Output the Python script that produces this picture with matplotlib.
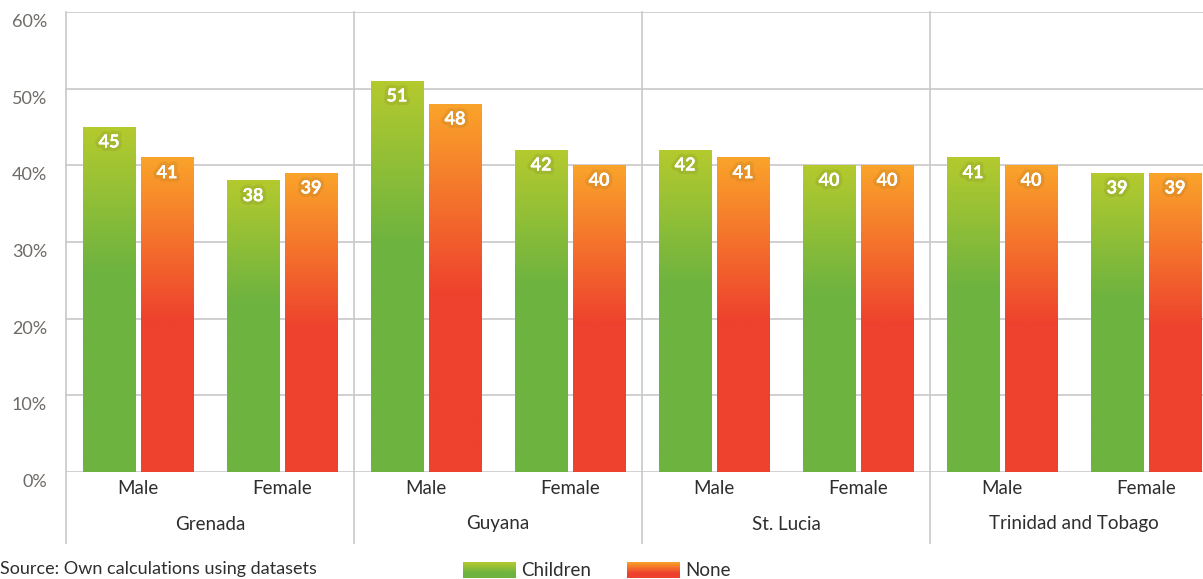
import numpy as np
import matplotlib
matplotlib.use("Agg")
import matplotlib.pyplot as plt
import matplotlib.transforms as mtransforms
import matplotlib.patheffects as pe

countries = ["Grenada", "Guyana", "St. Lucia", "Trinidad and Tobago"]
sexes = ["Male", "Female"]
children = [45, 38, 51, 42, 42, 40, 41, 39]
none_vals = [41, 39, 48, 40, 41, 40, 40, 39]
series_names = ["Children", "None"]
yticks = [0, 10, 20, 30, 40, 50, 60]

plt.rcParams['font.family'] = ['Lato', 'DejaVu Sans']

W, H = 1203, 579
fig = plt.figure(figsize=(W / 100, H / 100), dpi=100)
ax_left, ax_right, ax_top, ax_bot = 66, 1218, 12, 472
ax = fig.add_axes([ax_left / W, 1 - ax_bot / H, (ax_right - ax_left) / W, (ax_bot - ax_top) / H])

ax.set_xlim(0, 8)
ax.set_ylim(0, 60)
for s in ax.spines.values():
    s.set_visible(False)
ax.set_xticks([])
ax.set_yticks([])

grid_c = "#c8c8c8"
for v in yticks:
    ax.axhline(v, color=grid_c, lw=1.2, zorder=0)

# gradients
green_top = np.array([0xb4, 0xca, 0x2e]) / 255
green_bot = np.array([0x6d, 0xb3, 0x40]) / 255
orange_top = np.array([0xfa, 0xa3, 0x2a]) / 255
red_bot = np.array([0xee, 0x41, 0x2e]) / 255


def grad(top, bot, stop, n=200):
    t = np.linspace(0, 1, n)
    f = np.clip(t / stop, 0, 1)[:, None]
    arr = top[None, :] * (1 - f) + bot[None, :] * f
    return arr[:, None, :]


bw = 53 / 144
off = 29 / 144
for k, (c, o) in enumerate(zip(children, none_vals)):
    center = k + 0.5
    for val, x, top, bot, stop in [(c, center - off, green_top, green_bot, 0.42),
                                    (o, center + off, orange_top, red_bot, 0.52)]:
        ax.imshow(grad(top, bot, stop), extent=[x - bw / 2, x + bw / 2, 0, val],
                  origin='upper', aspect='auto', zorder=2, interpolation='bilinear')
        t = ax.text(x, val, str(val), ha='center', va='center', color='white',
                    fontsize=13, fontweight='bold', zorder=4,
                    transform=ax.transData + mtransforms.ScaledTranslation(0, -15 / 100, fig.dpi_scale_trans))
        t.set_path_effects([pe.withStroke(linewidth=5, foreground=(0.4, 0.35, 0.1, 0.12)), pe.Normal()])

ax.set_xlim(0, 8)
ax.set_ylim(0, 60)

# separators
bt = mtransforms.blended_transform_factory(ax.transData, ax.transAxes)
sep_bottom = -(543 - 472) / (472 - 12)
for xs in [0, 2, 4, 6, 8]:
    ax.plot([xs, xs], [1, sep_bottom], color=grid_c, lw=1.2, transform=bt, clip_on=False, zorder=1)

# category labels
txt_c = "#2e2e2e"
for k in range(8):
    ax.text(k + 0.5, -(489 - 472) / 460, sexes[k % 2], transform=bt, ha='center', va='center',
            fontsize=13.5, color=txt_c)
for i, cn in enumerate(countries):
    ax.text(2 * i + 1, -(524 - 472) / 460, cn, transform=bt, ha='center', va='center',
            fontsize=13.5, color=txt_c)

# y tick labels (offset below gridlines)
bty = mtransforms.blended_transform_factory(fig.transFigure, ax.transData)
for v in yticks:
    ax.text(47 / W, v, f"{v}%", transform=bty + mtransforms.ScaledTranslation(0, -10 / 100, fig.dpi_scale_trans),
            ha='right', va='center', fontsize=13, color="#6e6a66")

# legend
def swatch(x0, top, bot, stop):
    a = fig.add_axes([x0 / W, 1 - 578 / H, 53 / W, 16 / H])
    a.imshow(grad(top, bot, stop * 2), aspect='auto', interpolation='bilinear')
    a.set_axis_off()

swatch(463, green_top, green_bot, 0.35)
fig.text(521 / W, 1 - 570 / H, series_names[0], ha='left', va='center', fontsize=13.5, color=txt_c)
swatch(627, orange_top, red_bot, 0.35)
fig.text(685 / W, 1 - 570 / H, series_names[1], ha='left', va='center', fontsize=13.5, color=txt_c)

fig.text(0 / W, 1 - 577 / H, "Source: Own calculations using datasets", ha='left', va='bottom',
         fontsize=13, color=txt_c)

fig.savefig("out.png", dpi=100)
